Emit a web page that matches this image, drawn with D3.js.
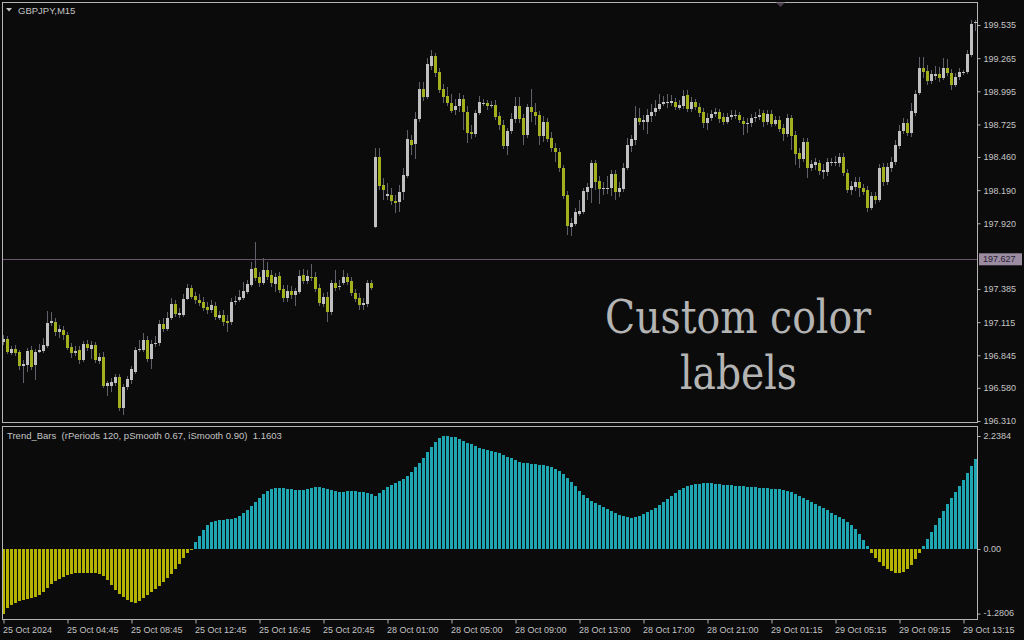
<!DOCTYPE html>
<html><head><meta charset="utf-8">
<script src="https://cdn.jsdelivr.net/npm/d3@7"></script>
<style>html,body{margin:0;padding:0;background:#0b0b0b;overflow:hidden}svg{display:block}</style>
</head><body><svg id="c" width="1024" height="640"></svg>
<script>
const symbolLabel = "GBPJPY,M15";
const indicatorLabel = "Trend_Bars  (rPeriods 120, pSmooth 0.67, iSmooth 0.90)  1.1603";
const annotationLines = ["Custom color", "labels"];

const opens = [
196.954,196.979,196.865,196.897,196.873,196.759,196.767,196.889,196.767,196.873,
196.881,196.921,197.109,197.117,197.036,197.052,197.011,196.913,196.865,196.889,
196.808,196.937,196.897,196.929,196.800,196.832,196.596,196.596,196.621,196.669,
196.417,196.588,196.645,196.710,196.889,196.889,196.970,196.816,196.937,196.946,
197.101,197.060,197.150,197.263,197.174,197.174,197.304,197.394,197.329,197.296,
197.280,197.239,197.215,197.247,197.150,197.174,197.125,197.117,197.280,197.296,
197.312,197.362,197.418,197.557,197.484,197.435,197.541,197.500,197.427,197.492,
197.386,197.312,197.370,197.337,197.362,197.500,197.451,197.484,197.484,197.394,
197.263,197.321,197.199,197.435,197.402,197.435,197.484,197.451,197.353,197.312,
197.255,197.263,197.435,197.890,198.461,198.232,198.143,198.151,198.102,198.094,
198.176,198.306,198.599,198.566,198.770,199.014,198.949,199.202,199.283,199.153,
199.014,198.957,198.900,198.843,198.876,198.933,198.827,198.664,198.648,198.819,
198.900,198.900,198.884,198.884,198.794,198.721,198.550,198.672,198.770,198.876,
198.778,198.640,198.868,198.827,198.803,198.632,198.746,198.615,198.534,198.501,
198.371,198.151,197.890,197.915,197.996,198.013,198.176,198.208,198.412,198.265,
198.208,198.208,198.208,198.322,198.176,198.200,198.371,198.550,198.599,198.778,
198.746,198.746,198.794,198.827,198.851,198.892,198.900,198.900,198.908,198.860,
198.876,198.965,198.851,198.908,198.868,198.827,198.738,198.778,198.811,198.827,
198.786,198.746,198.786,198.803,198.803,198.754,198.729,198.738,198.778,198.786,
198.819,198.746,198.811,198.729,198.762,198.697,198.648,198.778,198.640,198.493,
198.444,198.583,198.371,198.395,198.412,198.338,198.338,198.412,198.420,198.412,
198.461,198.330,198.192,198.216,198.257,198.208,198.192,198.045,198.143,198.110,
198.379,198.257,198.371,198.420,198.550,198.672,198.738,198.656,198.819,198.982,
199.185,199.161,199.079,199.120,199.136,199.104,199.185,199.145,199.047,199.112,
199.153,199.153,199.291,199.552];

const highs = [
197.011,197.003,196.921,196.929,196.889,196.808,196.905,196.921,196.897,196.937,
196.986,197.207,197.199,197.150,197.092,197.084,197.036,196.946,196.921,196.921,
196.962,196.970,196.962,196.954,196.865,196.873,196.637,196.661,196.694,196.694,
196.612,196.677,196.759,196.913,196.970,197.028,197.003,196.970,197.003,197.133,
197.150,197.199,197.312,197.296,197.231,197.345,197.427,197.418,197.361,197.345,
197.321,197.280,197.296,197.280,197.207,197.215,197.174,197.312,197.329,197.378,
197.443,197.459,197.606,197.768,197.524,197.638,197.606,197.541,197.516,197.524,
197.418,197.418,197.410,197.394,197.541,197.549,197.541,197.589,197.524,197.427,
197.353,197.362,197.459,197.541,197.459,197.541,197.516,197.484,197.386,197.353,
197.312,197.459,197.459,198.534,198.534,198.290,198.249,198.208,198.151,198.232,
198.371,198.680,198.640,198.827,199.071,199.071,199.267,199.332,199.307,199.185,
199.055,199.031,198.974,198.933,198.982,198.965,198.876,198.721,198.843,198.957,
198.933,198.925,198.917,198.925,198.827,198.762,198.697,198.819,198.949,198.949,
198.811,198.892,199.014,198.900,198.835,198.794,198.778,198.664,198.575,198.534,
198.395,198.184,197.964,198.045,198.110,198.208,198.249,198.436,198.436,198.306,
198.257,198.306,198.355,198.355,198.257,198.412,198.615,198.640,198.876,198.860,
198.803,198.851,198.892,198.925,198.974,198.957,198.974,198.965,198.941,198.925,
199.006,199.006,198.949,198.933,198.900,198.860,198.819,198.843,198.860,198.851,
198.819,198.819,198.843,198.843,198.827,198.786,198.778,198.811,198.827,198.851,
198.843,198.843,198.843,198.794,198.794,198.729,198.811,198.803,198.672,198.534,
198.615,198.615,198.436,198.452,198.436,198.403,198.452,198.452,198.469,198.493,
198.493,198.363,198.265,198.298,198.298,198.241,198.224,198.176,198.176,198.403,
198.412,198.412,198.461,198.599,198.721,198.778,198.770,198.900,199.006,199.275,
199.275,199.210,199.169,199.202,199.194,199.267,199.259,199.177,199.145,199.185,
199.169,199.332,199.576,199.576];

const lows = [
196.929,196.856,196.848,196.840,196.726,196.621,196.710,196.726,196.645,196.865,
196.865,196.905,197.084,197.003,196.986,196.970,196.889,196.824,196.840,196.775,
196.792,196.881,196.816,196.784,196.775,196.580,196.514,196.547,196.596,196.392,
196.360,196.563,196.612,196.694,196.873,196.873,196.792,196.734,196.913,196.921,
197.036,197.044,197.133,197.158,197.150,197.158,197.296,197.304,197.263,197.247,
197.207,197.182,197.190,197.133,197.133,197.084,197.036,197.092,197.255,197.280,
197.296,197.345,197.402,197.451,197.402,197.418,197.459,197.402,197.362,197.353,
197.280,197.280,197.304,197.247,197.345,197.427,197.427,197.451,197.362,197.247,
197.239,197.117,197.174,197.370,197.378,197.418,197.418,197.329,197.280,197.215,
197.215,197.239,197.378,197.882,198.192,198.110,198.110,198.070,198.005,198.013,
198.110,198.290,198.477,198.444,198.746,198.917,198.933,199.169,199.112,198.982,
198.900,198.876,198.819,198.803,198.827,198.680,198.575,198.607,198.623,198.803,
198.876,198.843,198.860,198.762,198.680,198.526,198.477,198.648,198.738,198.738,
198.558,198.615,198.746,198.721,198.558,198.583,198.583,198.501,198.420,198.338,
198.119,197.825,197.817,197.899,197.980,197.996,198.110,198.086,198.192,198.078,
198.151,198.159,198.143,198.110,198.135,198.176,198.355,198.501,198.558,198.721,
198.680,198.648,198.746,198.794,198.835,198.876,198.860,198.876,198.843,198.843,
198.851,198.827,198.827,198.843,198.786,198.697,198.680,198.754,198.786,198.738,
198.721,198.729,198.762,198.770,198.738,198.640,198.656,198.705,198.746,198.762,
198.705,198.721,198.705,198.713,198.664,198.591,198.623,198.518,198.395,198.371,
198.420,198.290,198.347,198.355,198.314,198.281,198.306,198.387,198.387,198.379,
198.306,198.168,198.151,198.184,198.135,198.151,198.013,198.029,198.078,198.094,
198.224,198.232,198.338,198.395,198.526,198.648,198.632,198.623,198.794,198.965,
199.104,199.047,199.055,199.088,199.071,199.088,199.120,199.006,199.031,199.088,
199.128,199.136,199.275,199.487];

const closes = [
196.979,196.873,196.897,196.865,196.759,196.775,196.881,196.751,196.873,196.889,
196.929,197.109,197.125,197.036,197.060,197.011,196.905,196.865,196.881,196.808,
196.937,196.905,196.929,196.808,196.832,196.596,196.621,196.629,196.669,196.417,
196.588,196.653,196.734,196.889,196.897,196.970,196.816,196.937,196.946,197.101,
197.060,197.150,197.263,197.182,197.190,197.304,197.394,197.321,197.296,197.272,
197.231,197.215,197.255,197.158,197.174,197.117,197.109,197.280,197.288,197.321,
197.370,197.427,197.549,197.475,197.435,197.541,197.484,197.435,197.484,197.378,
197.312,197.370,197.337,197.370,197.492,197.451,197.492,197.475,197.386,197.272,
197.321,197.199,197.435,197.394,197.410,197.484,197.443,197.353,197.304,197.255,
197.272,197.435,197.394,198.461,198.224,198.192,198.159,198.102,198.086,198.176,
198.314,198.607,198.558,198.770,199.014,198.949,199.218,199.283,199.145,199.006,
198.949,198.900,198.835,198.876,198.933,198.827,198.656,198.648,198.819,198.908,
198.900,198.876,198.884,198.786,198.721,198.550,198.672,198.770,198.876,198.770,
198.640,198.868,198.827,198.794,198.632,198.746,198.607,198.534,198.501,198.371,
198.143,197.899,197.923,198.013,198.021,198.184,198.216,198.412,198.257,198.200,
198.208,198.208,198.322,198.176,198.208,198.371,198.558,198.607,198.778,198.746,
198.762,198.803,198.827,198.860,198.892,198.908,198.908,198.917,198.868,198.884,
198.957,198.851,198.908,198.868,198.819,198.738,198.778,198.811,198.827,198.770,
198.746,198.786,198.803,198.803,198.762,198.729,198.738,198.778,198.786,198.803,
198.746,198.811,198.729,198.762,198.689,198.648,198.778,198.632,198.485,198.444,
198.583,198.371,198.403,198.420,198.347,198.355,198.420,198.420,198.420,198.461,
198.330,198.192,198.224,198.257,198.208,198.176,198.045,198.143,198.110,198.371,
198.257,198.379,198.420,198.558,198.672,198.738,198.656,198.835,198.974,199.185,
199.153,199.079,199.136,199.136,199.104,199.185,199.145,199.047,199.112,199.153,
199.153,199.299,199.544,199.560];

const trendValues = [
-1.28,-1.17,-1.11,-1.07,-1.03,-1.01,-0.99,-0.97,-0.95,-0.91,
-0.85,-0.77,-0.69,-0.63,-0.59,-0.55,-0.52,-0.50,-0.48,-0.48,
-0.48,-0.48,-0.48,-0.48,-0.50,-0.53,-0.61,-0.71,-0.81,-0.89,
-0.95,-1.01,-1.05,-1.07,-1.03,-0.97,-0.91,-0.85,-0.79,-0.73,
-0.65,-0.57,-0.50,-0.40,-0.30,-0.18,-0.08,-0.02,0.14,0.26,
0.38,0.48,0.53,0.55,0.57,0.57,0.59,0.59,0.61,0.65,
0.71,0.77,0.85,0.93,1.01,1.09,1.15,1.19,1.21,1.21,
1.21,1.19,1.19,1.17,1.17,1.17,1.19,1.21,1.23,1.23,
1.21,1.19,1.17,1.15,1.13,1.13,1.15,1.15,1.15,1.13,
1.13,1.11,1.09,1.05,1.11,1.17,1.23,1.27,1.31,1.35,
1.39,1.45,1.53,1.62,1.70,1.80,1.92,2.02,2.12,2.20,
2.2384,2.23,2.22,2.21,2.18,2.14,2.10,2.08,2.04,2.00,
1.98,1.96,1.94,1.92,1.90,1.86,1.82,1.80,1.76,1.72,
1.70,1.70,1.68,1.68,1.66,1.66,1.64,1.62,1.58,1.55,
1.49,1.41,1.33,1.25,1.15,1.07,1.01,0.95,0.91,0.87,
0.83,0.79,0.75,0.71,0.67,0.65,0.63,0.61,0.63,0.65,
0.69,0.73,0.77,0.81,0.87,0.93,0.99,1.05,1.11,1.17,
1.21,1.25,1.27,1.29,1.29,1.31,1.31,1.31,1.29,1.29,
1.27,1.27,1.27,1.25,1.25,1.25,1.23,1.23,1.23,1.21,
1.21,1.21,1.19,1.19,1.19,1.17,1.15,1.13,1.09,1.05,
1.01,0.97,0.93,0.89,0.85,0.81,0.77,0.71,0.67,0.63,
0.59,0.53,0.48,0.40,0.30,0.18,0.06,-0.08,-0.18,-0.26,
-0.34,-0.40,-0.44,-0.48,-0.48,-0.46,-0.40,-0.32,-0.20,-0.08,
0.06,0.20,0.34,0.48,0.61,0.75,0.89,1.01,1.13,1.25,
1.37,1.51,1.64,1.78];

const priceTicks = [199.535,199.265,198.995,198.725,198.460,198.190,197.920,197.385,197.115,196.845,196.580,196.310];
const currentPrice = 197.627;
const indicatorTicks = [2.2384, 0, -1.2806];
const indicatorTickLabels = ["2.2384", "0.00", "-1.2806"];
const timeTickIndex = [0,16,32,48,64,80,96,112,128,144,160,176,192,208,224,240];
const timeLabels = ["25 Oct 2024","25 Oct 04:45","25 Oct 08:45","25 Oct 12:45","25 Oct 16:45","25 Oct 20:45",
  "28 Oct 01:00","28 Oct 05:00","28 Oct 09:00","28 Oct 13:00","28 Oct 17:00","28 Oct 21:00",
  "29 Oct 01:15","29 Oct 05:15","29 Oct 09:15","29 Oct 13:15"];

// ---------- drawing ----------
const W = 1024, H = 640;
const C = {bg:"#0b0b0b", frame:"#b4b4b4", text:"#c4c4c4", bull:"#c0c0c0", bear:"#a2b01e",
  wick:"#606068", pos:"#1ea6b2", neg:"#b4b400", cur:"#67566a", curBox:"#9c8ca2", curText:"#2a2030"};
const font = "'Liberation Sans', Arial, sans-serif";
const svg = d3.select("#c");
svg.append("rect").attr("width", W).attr("height", H).attr("fill", C.bg);

const n = closes.length;
const main = {l:2.5, t:2.5, r:977.5, b:422.5};
const ind = {t:426.5, b:619.5};

const x = d3.scaleLinear().domain([0, n]).range([2, 2 + 4 * n]);
const xMid = d3.scaleLinear().domain([0, n]).range([3.5, 3.5 + 4 * n]);
const yP = d3.scaleLinear().domain([196.310, 199.535]).range([421, 25]);
const yI = d3.scaleLinear().domain([-1.2806, 2.2384]).range([613.6, 436]);

const defs = svg.append("defs");
defs.append("clipPath").attr("id", "cm").append("rect")
  .attr("x", main.l + 0.5).attr("y", main.t + 0.5).attr("width", main.r - main.l - 1).attr("height", main.b - main.t - 1);
defs.append("clipPath").attr("id", "ci").append("rect")
  .attr("x", main.l + 0.5).attr("y", ind.t + 0.5).attr("width", main.r - main.l - 1).attr("height", ind.b - ind.t - 1);

// current price line
svg.append("line").attr("x1", main.l).attr("x2", main.r)
  .attr("y1", Math.round(yP(currentPrice)) + 0.5).attr("y2", Math.round(yP(currentPrice)) + 0.5)
  .attr("stroke", C.cur).attr("stroke-width", 1);

// candles
const idx = d3.range(n);
const gc = svg.append("g").attr("clip-path", "url(#cm)").attr("shape-rendering", "crispEdges");
gc.selectAll("rect.w").data(idx).join("rect").attr("class", "w")
  .attr("x", i => x(i) + 1).attr("width", 1)
  .attr("y", i => yP(highs[i])).attr("height", i => Math.max(1, yP(lows[i]) - yP(highs[i])))
  .attr("fill", C.wick);
gc.selectAll("rect.b").data(idx).join("rect").attr("class", "b")
  .attr("x", i => x(i)).attr("width", 3)
  .attr("y", i => Math.min(yP(opens[i]), yP(closes[i])))
  .attr("height", i => Math.max(1, Math.abs(yP(opens[i]) - yP(closes[i]))))
  .attr("fill", i => closes[i] < opens[i] ? C.bear : C.bull);

// histogram
const gh = svg.append("g").attr("clip-path", "url(#ci)").attr("shape-rendering", "crispEdges");
gh.selectAll("rect").data(idx).join("rect")
  .attr("x", i => x(i)).attr("width", 3)
  .attr("y", i => Math.min(yI(0), yI(trendValues[i])))
  .attr("height", i => Math.abs(yI(trendValues[i]) - yI(0)))
  .attr("fill", i => trendValues[i] >= 0 ? C.pos : C.neg);

// frames
[[main.t, main.b], [ind.t, ind.b]].forEach(([t, b]) => {
  svg.append("rect").attr("x", main.l).attr("y", t).attr("width", main.r - main.l).attr("height", b - t)
    .attr("fill", "none").attr("stroke", C.frame).attr("stroke-width", 1);
});

function styleAxis(g) {
  g.select(".domain").remove();
  g.selectAll(".tick line").attr("stroke", C.frame);
  g.selectAll(".tick text").attr("fill", C.text).attr("font-family", font).attr("font-size", "9px");
}

// price axis
const ga = svg.append("g").attr("transform", `translate(${main.r},0)`)
  .call(d3.axisRight(yP).tickValues(priceTicks).tickFormat(d3.format(".3f")).tickSize(3).tickPadding(3));
styleAxis(ga);

// current price label
const cy = yP(currentPrice);
svg.append("rect").attr("x", 979).attr("y", cy - 6).attr("width", 43).attr("height", 12).attr("fill", C.curBox);
svg.append("text").attr("x", 983).attr("y", cy).attr("dy", "0.35em").attr("fill", C.curText)
  .attr("font-family", font).attr("font-size", "9px").text(d3.format(".3f")(currentPrice));

// indicator axis
const gi = svg.append("g").attr("transform", `translate(${main.r},0)`)
  .call(d3.axisRight(yI).tickValues(indicatorTicks).tickFormat((d, k) => indicatorTickLabels[k]).tickSize(3).tickPadding(3));
styleAxis(gi);
gi.selectAll(".tick text").attr("y", d => {
  const p = yI(d);
  return Math.min(Math.max(p, ind.t + 7), ind.b - 7) - p;
});

// time axis
const gt = svg.append("g").attr("transform", `translate(0,${ind.b})`)
  .call(d3.axisBottom(xMid).tickValues(timeTickIndex).tickFormat((d, k) => timeLabels[k]).tickSize(4).tickPadding(3));
styleAxis(gt);
gt.selectAll(".tick text").attr("text-anchor", "start").attr("x", -1);

// labels
svg.append("path").attr("d", "M6,8 L12,8 L9,11.5 Z").attr("fill", C.text);
svg.append("text").attr("x", 18).attr("y", 14).attr("fill", C.text).attr("font-family", font)
  .attr("font-size", "9.5px").text(symbolLabel);
svg.append("text").attr("x", 7).attr("y", 439).attr("fill", C.text).attr("font-family", font)
  .attr("font-size", "9.5px").attr("xml:space", "preserve").style("white-space", "pre").text(indicatorLabel);

// top marker
svg.append("path").attr("d", "M776,2.5 L785,2.5 L780.5,7 Z").attr("fill", "#4a3c4c");

// annotation
const ann = svg.append("g").attr("fill", "#b4b4b4").attr("font-family", "'DejaVu Serif', serif").attr("font-size", "46px");
ann.append("text").attr("x", 605).attr("y", 333).attr("textLength", 266).attr("lengthAdjust", "spacingAndGlyphs").text(annotationLines[0]);
ann.append("text").attr("x", 680).attr("y", 389).attr("textLength", 117).attr("lengthAdjust", "spacingAndGlyphs").text(annotationLines[1]);
</script></body></html>
